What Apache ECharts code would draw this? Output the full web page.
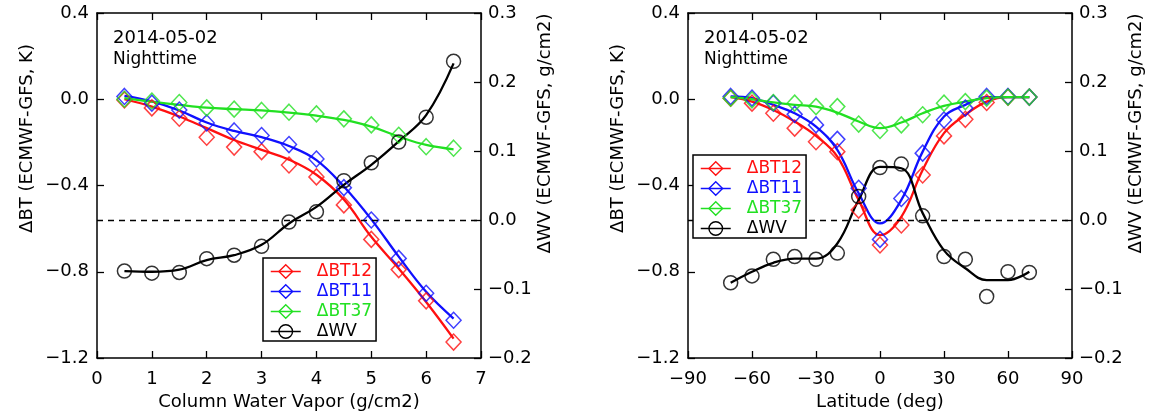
<!DOCTYPE html>
<html>
<head>
<meta charset="utf-8">
<script src="https://cdn.jsdelivr.net/npm/echarts@6/dist/echarts.min.js"></script>
<style>
html,body{margin:0;padding:0;background:#fff;}
#chart{width:1154px;height:417px;}
</style>
</head>
<body>
<div id="chart"></div>
<script>
// ---------- Left panel: binned by column water vapor ----------
const cwvX = [0.5, 1, 1.5, 2, 2.5, 3, 3.5, 4, 4.5, 5, 5.5, 6, 6.5];
const cwvBT12Pts = [-0.003, -0.04, -0.088, -0.176, -0.222, -0.243, -0.305, -0.36, -0.49, -0.65, -0.79, -0.935, -1.126];
const cwvBT11Pts = [0.013, -0.018, -0.05, -0.11, -0.147, -0.168, -0.21, -0.277, -0.41, -0.56, -0.738, -0.9, -1.025];
const cwvBT37Pts = [0.0, -0.008, -0.015, -0.04, -0.046, -0.052, -0.06, -0.068, -0.091, -0.119, -0.167, -0.22, -0.227];
const cwvWVPts   = [-0.074, -0.077, -0.076, -0.056, -0.051, -0.038, -0.003, 0.012, 0.057, 0.083, 0.113, 0.149, 0.23];
const cwvBT12Fit = [0.0, -0.034, -0.08, -0.134, -0.189, -0.235, -0.28, -0.35, -0.465, -0.638, -0.785, -0.94, -1.11];
const cwvBT11Fit = [0.016, -0.01, -0.052, -0.108, -0.147, -0.176, -0.217, -0.282, -0.405, -0.557, -0.73, -0.893, -1.017];
const cwvBT37Fit = [0.005, -0.011, -0.026, -0.039, -0.046, -0.052, -0.062, -0.076, -0.096, -0.127, -0.173, -0.212, -0.232];
const cwvWVFit   = [-0.074, -0.075, -0.072, -0.058, -0.051, -0.036, -0.005, 0.019, 0.051, 0.08, 0.114, 0.152, 0.227];

// ---------- Right panel: binned by latitude ----------
const latX = [-70, -60, -50, -40, -30, -20, -10, 0, 10, 20, 30, 40, 50, 60, 70];
const latBT12Pts = [0.005, -0.018, -0.065, -0.134, -0.197, -0.243, -0.514, -0.676, -0.583, -0.351, -0.17, -0.093, -0.015, 0.01, 0.01];
const latBT11Pts = [0.013, 0.005, -0.018, -0.07, -0.119, -0.186, -0.413, -0.65, -0.46, -0.25, -0.096, -0.041, 0.013, 0.013, 0.01];
const latBT37Pts = [0.005, -0.003, -0.015, -0.018, -0.034, -0.034, -0.115, -0.145, -0.119, -0.072, -0.018, -0.011, 0.005, 0.01, 0.01];
const latWVPts   = [-0.091, -0.081, -0.057, -0.053, -0.057, -0.048, 0.034, 0.076, 0.081, 0.006, -0.053, -0.057, -0.111, -0.075, -0.076];
const latBT12Fit = [0.01, -0.011, -0.05, -0.103, -0.17, -0.266, -0.467, -0.63, -0.545, -0.328, -0.157, -0.072, -0.011, 0.01, 0.01];
const latBT11Fit = [0.013, 0.005, -0.026, -0.065, -0.127, -0.235, -0.436, -0.576, -0.467, -0.243, -0.08, -0.026, 0.01, 0.01, 0.01];
const latBT37Fit = [0.01, 0.0, -0.015, -0.026, -0.034, -0.062, -0.103, -0.134, -0.108, -0.065, -0.031, -0.011, 0.005, 0.01, 0.01];
const latWVFit   = [-0.091, -0.075, -0.062, -0.056, -0.056, -0.034, 0.029, 0.077, 0.075, 0.01, -0.044, -0.07, -0.087, -0.087, -0.075];

const names = ['ΔBT12', 'ΔBT11', 'ΔBT37', 'ΔWV'];
const colors = ['#ff1010', '#1010ff', '#22e022', '#000000'];
const dateText = '2014-05-02';
const timeText = 'Nighttime';
const cwvTitle = 'Column Water Vapor (g/cm2)';
const latTitle = 'Latitude (deg)';
const btTitle = 'ΔBT (ECMWF-GFS, K)';
const wvTitle = 'ΔWV (ECMWF-GFS, g/cm2)';

const FONT = 'DejaVu Sans';
const zip = (xs, ys) => xs.map((x, i) => [x, ys[i]]);
const minus = s => String(s).replace('-', '\u2212');

const panels = [
  {x: cwvX, pts: [cwvBT12Pts, cwvBT11Pts, cwvBT37Pts, cwvWVPts], fit: [cwvBT12Fit, cwvBT11Fit, cwvBT37Fit, cwvWVFit],
   xmin: 0, xmax: 7, xint: 1, xname: cwvTitle, fmt: v => minus(v)},
  {x: latX, pts: [latBT12Pts, latBT11Pts, latBT37Pts, latWVPts], fit: [latBT12Fit, latBT11Fit, latBT37Fit, latWVFit],
   xmin: -90, xmax: 90, xint: 30, xname: latTitle, fmt: v => minus(v)}
];
const gridLefts = [97, 688];
const legendPos = [[263, 258], [693, 155]];
const textLefts = [113, 704];

const grid = [], xAxis = [], yAxis = [], series = [], legend = [], graphic = [];
const axisLine = {show: true, onZero: false, lineStyle: {color: '#000', width: 1.5}};
const tick = {show: true, inside: true, length: 7, lineStyle: {color: '#000', width: 1.3}};
const labelStyle = {fontFamily: FONT, fontSize: 18, color: '#000'};

panels.forEach((p, gi) => {
  grid.push({left: gridLefts[gi], top: 13, width: 384, height: 345, containLabel: false});
  // bottom x
  xAxis.push({type: 'value', gridIndex: gi, position: 'bottom', min: p.xmin, max: p.xmax, interval: p.xint,
    axisLine, axisTick: tick, splitLine: {show: false},
    axisLabel: Object.assign({margin: 12, formatter: p.fmt}, labelStyle),
    name: p.xname, nameLocation: 'middle', nameGap: 33,
    nameTextStyle: {fontFamily: FONT, fontSize: 18, color: '#000'}});
  // top x (ticks only)
  xAxis.push({type: 'value', gridIndex: gi, position: 'top', min: p.xmin, max: p.xmax, interval: p.xint,
    axisLine, axisTick: tick, splitLine: {show: false}, axisLabel: {show: false}});
  // left y (BT)
  yAxis.push({type: 'value', gridIndex: gi, position: 'left', min: -1.2, max: 0.4, interval: 0.4,
    axisLine, axisTick: tick, splitLine: {show: false},
    axisLabel: Object.assign({margin: 8, formatter: v => minus(v.toFixed(1))}, labelStyle),
    name: btTitle, nameLocation: 'middle', nameGap: 61, nameRotate: 90,
    nameTextStyle: {fontFamily: FONT, fontSize: 18, color: '#000', padding: [0, 0, 0, 94]}});
  // right y (WV)
  yAxis.push({type: 'value', gridIndex: gi, position: 'right', min: -0.2, max: 0.3, interval: 0.1,
    axisLine, axisTick: tick, splitLine: {show: false},
    axisLabel: Object.assign({margin: 7, formatter: v => minus(v.toFixed(1))}, labelStyle),
    name: wvTitle, nameLocation: 'middle', nameGap: 55, nameRotate: 90,
    nameTextStyle: {fontFamily: FONT, fontSize: 18, color: '#000', padding: [0, 0, 0, 104]}});

  names.forEach((nm, si) => {
    const isWV = si === 3;
    const yIdx = gi * 2 + (isWV ? 1 : 0);
    const xIdx = gi * 2;
    const lineSeries = {
      type: 'line', name: nm, xAxisIndex: xIdx, yAxisIndex: yIdx,
      data: zip(p.x, p.fit[si]), smooth: 0.4, showSymbol: false,
      symbol: isWV ? 'circle' : 'diamond', symbolSize: 13,
      lineStyle: {color: colors[si], width: 2.3},
      itemStyle: {color: colors[si]},
      z: 2, silent: true, animation: false
    };
    if (isWV) {
      lineSeries.markLine = {silent: true, symbol: ['none', 'none'], label: {show: false},
        lineStyle: {color: '#000', width: 1.3, type: [6, 5]}, data: [{yAxis: 0}], animation: false};
    }
    series.push(lineSeries);
    series.push({
      type: 'scatter', name: nm + ' bins', xAxisIndex: xIdx, yAxisIndex: yIdx,
      data: zip(p.x, p.pts[si]), symbol: isWV ? 'circle' : 'diamond',
      symbolSize: isWV ? 14 : [15, 16],
      itemStyle: {color: 'rgba(0,0,0,0)', borderColor: colors[si], borderWidth: 1.5},
      z: 3, silent: true, animation: false
    });
  });

  legend.push({
    orient: 'vertical', left: legendPos[gi][0], top: legendPos[gi][1],
    itemWidth: 30, itemHeight: 17, itemGap: 3,
    padding: [5, 4, 1, 7], z: 20,
    borderColor: '#000', borderWidth: 1.5, backgroundColor: '#fff',
    selectedMode: false,
    data: names.map((nm, si) => ({
      name: nm,
      textStyle: {color: colors[si], fontFamily: FONT, fontSize: 17, lineHeight: 17, padding: [0, 0, 0, 11]},
      itemStyle: {color: 'rgba(0,0,0,0)', borderColor: colors[si], borderWidth: 1.4},
      lineStyle: {color: colors[si], width: 1.5}
    }))
  });

  graphic.push({type: 'text', left: textLefts[gi], top: 29, style: {text: dateText, font: '18px "DejaVu Sans"', fill: '#000'}});
  graphic.push({type: 'text', left: textLefts[gi], top: 51, style: {text: timeText, font: '17px "DejaVu Sans"', fill: '#000'}});
});

const chart = echarts.init(document.getElementById('chart'), null, {renderer: 'canvas'});
chart.setOption({
  backgroundColor: '#fff',
  animation: false,
  grid, xAxis, yAxis, series, legend, graphic
});
</script>
</body>
</html>
